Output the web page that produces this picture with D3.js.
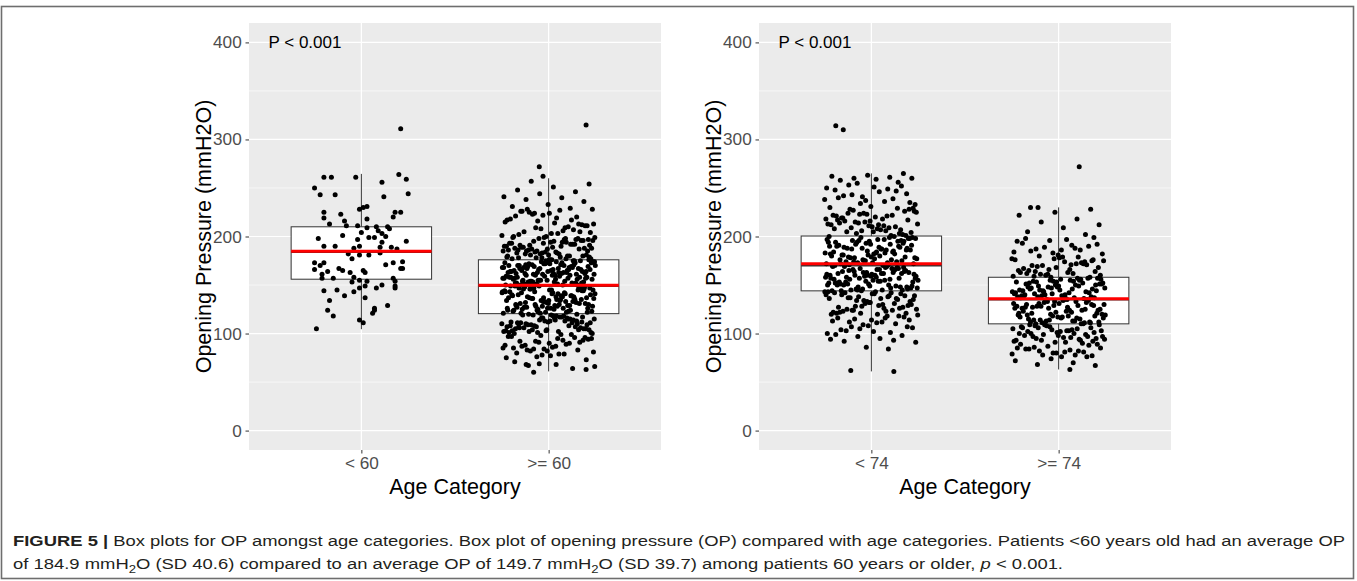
<!DOCTYPE html>
<html>
<head>
<meta charset="utf-8">
<script src="https://cdn.jsdelivr.net/npm/d3@7"></script>
<style>
  body { margin: 0; background: #fff; }
  svg { display: block; }
</style>
</head>
<body>
<script>
var w = 1357;
var h = 581;

// categories and axis ticks
var catsA = ["< 60", ">= 60"];
var catsB = ["< 74", ">= 74"];
var yTicks = [0, 100, 200, 300, 400];
var yMinor = [50, 150, 250, 350];

// box statistics (q1, median, q3, whisker ends) and the red mean line
var q1A = [156, 120.5], medA = [184, 149], q3A = [210, 176], loA = [104.5, 61], hiA = [264.5, 260], meanA = [184.9, 149.7];
var q1B = [144, 110], medB = [170, 135], q3B = [200.5, 158], loB = [61, 63], hiB = [265, 230], meanB = [171.8, 135.8];

// opening pressure of each patient, < 60 group (jitter read too, in category units)
var lt60 = [261,261,261,264,259,256,250,243,243,241,244,228,230,231,225,219,223,216,213,211,218,225,225,220,
  211,209,210,210,208,198,201,204,199,199,206,203,200,197,195,190,190,194,188,190,189,189,187,182,177,181,181,183,
  173,170,173,166,161,164,167,165,163,165,163,171,173,167,167,174,157,157,158,157,154,149,147,155,153,154,147,149,
  150,147,144,145,143,139,134,137,124,129,126,124,121,118,114,111,105,311];
var lt60Jit = [-0.20,-0.16,-0.03,0.20,0.24,0.11,-0.25,-0.22,-0.14,0.12,0.25,-0.01,0.01,0.03,-0.20,-0.20,-0.11,-0.09,
  -0.17,-0.08,0.03,0.18,0.21,0.17,-0.02,0.03,0.08,0.14,0.15,-0.23,-0.10,0.00,0.04,0.07,0.09,0.11,0.13,-0.02,0.24,
  -0.20,-0.14,0.11,-0.04,-0.01,0.10,0.16,0.19,-0.07,-0.05,-0.01,0.04,0.10,-0.25,-0.22,-0.20,-0.25,-0.21,-0.18,-0.12,
  -0.10,-0.06,0.01,0.02,0.13,0.17,0.21,0.22,0.22,-0.21,-0.15,-0.04,0.17,0.18,0.18,0.18,-0.01,-0.05,0.03,-0.01,0.02,
  0.11,0.08,-0.20,-0.13,-0.04,-0.09,-0.17,0.02,-0.18,0.14,0.07,0.07,0.06,-0.15,-0.01,0.01,-0.24,0.21];

// >= 60 group (dense cloud, values estimated band by band; the extreme points come first with their jitter)
var ge60 = [315,272,262,60,63,68,68,69,
  257,254,251,248,246,244,241,240,238,236,233,231,
  229,224,228,219,226,213,222,217,209,225,211,203,221,207,216,201,227,205,212,200,218,210,223,204,214,202,220,208,215,206,
  228,211,224,200,217,209,213,203,226,205,
  199,186,194,181,197,189,183,192,198,185,190,182,196,187,193,180,195,188,184,191,
  198,183,190,197,186,181,194,188,192,185,199,182,189,196,184,193,180,187,191,195,
  186,197,182,190,194,185,188,181,199,192,184,196,183,189,187,193,180,198,191,185,
  176,162,171,155,168,179,151,164,173,158,166,153,177,160,170,156,174,150,163,169,
  157,172,165,152,178,161,167,154,175,159,170,163,151,176,166,158,173,155,168,162,
  171,153,164,177,160,169,156,174,150,167,161,179,154,172,158,165,152,175,163,170,
  159,168,152,175,164,157,171,166,153,178,161,155,173,150,167,162,176,156,169,160,
  174,151,165,158,172,163,177,154,169,160,152,175,166,157,171,162,180,155,164,168,
  161,173,156,167,150,178,159,170,153,164,176,157,168,151,174,163,155,166,172,158,
  165,154,179,162,170,152,167,157,173,160,
  146,131,139,124,143,128,135,121,148,133,126,141,137,122,145,130,138,125,142,134,
  127,144,132,149,123,136,140,129,147,120,134,143,126,138,131,145,124,139,128,136,
  141,125,148,133,137,122,146,130,142,127,135,149,121,139,132,144,126,140,129,147,
  123,138,131,145,128,134,142,120,137,126,149,133,124,141,130,146,135,122,143,129,
  136,147,125,140,132,121,144,138,127,148,134,123,139,130,145,128,142,131,137,124,
  133,146,126,141,129,137,122,143,135,148,
  117,104,112,108,119,101,114,106,110,116,103,118,109,105,113,100,111,107,115,102,
  119,106,113,101,116,109,104,118,111,107,114,102,117,110,105,112,103,115,108,100,
  118,111,104,116,107,113,102,109,119,105,114,101,110,117,106,112,103,108,115,104,
  111,116,107,113,
  98,88,93,83,96,90,85,99,92,81,95,87,91,84,97,89,82,94,86,80,
  96,91,85,99,88,93,82,97,90,84,95,87,92,83,
  78,75,79,67,73,77,71,64,76,66,79];
var ge60Jit = [0.20,-0.05,-0.03,-0.08,0.20,-0.12,0.04,-0.05];

// < 74 group
var lt74 = [314,310,62,61,
  265,263,262,261,260,260,259,258,
  256,241,250,236,253,244,231,248,239,255,233,246,242,252,237,230,249,243,235,251,240,247,234,238,
  218,205,226,211,222,201,215,229,208,219,203,224,213,206,228,217,210,221,200,214,
  225,207,216,202,223,212,209,227,204,220,214,229,206,218,211,224,201,216,208,222,
  203,226,212,219,207,215,200,221,209,228,205,217,210,223,213,
  187,174,195,181,170,192,178,199,184,172,190,176,197,183,171,188,179,194,185,173,
  198,180,189,175,193,182,171,196,186,177,191,174,199,183,170,188,179,195,184,176,
  192,172,197,181,189,175,194,186,178,198,173,190,182,196,177,187,171,193,185,180,
  199,174,191,183,176,195,188,172,197,179,186,192,170,184,194,178,189,181,196,175,
  190,173,187,198,182,
  162,149,167,155,145,158,164,151,169,147,160,153,166,144,157,163,150,168,156,146,
  161,152,165,148,159,154,169,145,163,157,150,166,147,160,153,168,144,158,162,151,
  165,149,156,167,146,161,154,164,148,159,152,169,145,163,155,150,166,157,147,162,
  153,168,160,144,156,164,149,158,151,167,146,161,155,165,148,159,152,163,145,157,
  166,150,162,154,160,
  138,124,133,141,127,136,121,143,130,125,139,132,122,142,128,135,120,140,126,134,
  143,123,137,129,141,121,131,138,125,136,142,127,133,120,139,124,130,143,122,135,
  128,140,126,137,121,132,142,124,134,139,129,123,141,131,136,
  118,107,114,102,116,110,105,119,112,103,117,108,113,101,115,106,111,104,118,109,100,116,112,107,114,
  99,93,97,91,95,92,98,86,94,84];
var lt74Jit = [-0.19,-0.15,-0.11,0.12];

// >= 74 group
var ge74 = [272,230,230,63,
  228,225,222,218,215,212,209,205,202,
  196,184,191,187,199,181,193,186,189,182,197,185,190,183,195,188,180,192,186,198,
  172,161,177,166,159,175,168,163,179,170,160,174,165,171,158,176,162,169,164,178,
  167,173,160,175,163,170,158,177,165,172,161,168,179,162,174,166,159,171,164,176,
  148,139,155,143,151,136,146,157,141,153,137,149,144,156,140,152,135,147,142,154,
  138,150,145,157,139,151,136,148,143,155,141,146,153,137,149,144,156,140,152,135,
  147,142,154,138,150,145,157,139,151,136,148,143,155,141,146,153,137,149,144,156,
  140,152,135,147,142,154,138,150,145,139,
  124,113,130,118,127,111,133,121,116,128,112,134,119,125,114,131,122,110,129,117,
  126,115,132,120,123,112,134,118,128,113,131,121,116,127,110,133,119,124,114,130,
  122,117,129,111,125,135,115,132,120,126,113,128,118,131,123,110,134,116,127,121,
  112,129,119,133,114,124,117,130,111,126,
  105,96,108,92,101,107,94,99,103,91,109,97,104,93,100,106,95,102,98,90,
  108,94,103,97,106,91,100,105,93,109,96,102,99,107,92,104,95,101,98,106,
  93,109,97,103,100,
  88,80,85,78,82,89,76,84,81,87,79,83,86,77,80,89,82,78,85,81,84,76,
  74,72,70,68,67];
var ge74Jit = [0.11,-0.15,-0.11,0.06];

// texts
var yTitle = "Opening Pressure (mmH2O)";
var xTitle = "Age Category";
var pText = "P < 0.001";

var font = "'Liberation Sans', Arial, Helvetica, sans-serif";

var svg = d3.select("body").append("svg").attr("width", w).attr("height", h);

// figure frame
svg.append("rect")
  .attr("x", 1.5).attr("y", 6.5)
  .attr("width", 1352).attr("height", 572)
  .attr("fill", "none")
  .attr("stroke", "#6e6e6e")
  .attr("stroke-width", 1.6);

var y = d3.scaleLinear().domain([-20, 420]).range([450, 23]);

// jitter for the dense clouds where it was not read point by point
function spread(i) {
  return (((i * 0.6180339887 + 0.37) % 1) - 0.5) * 0.5;
}

function drawPanel(x0, x1, cats, groups, jits, q1, med, q3, lo, hi, mean) {
  var x = d3.scalePoint().domain(cats).range([x0, x1]).padding(0.6);
  var step = x.step();
  var g = svg.append("g");

  // panel background
  g.append("rect")
    .attr("x", x0).attr("y", y.range()[1])
    .attr("width", x1 - x0).attr("height", y.range()[0] - y.range()[1])
    .attr("fill", "#ebebeb");

  // grid
  g.selectAll("line.minor").data(yMinor).enter().append("line")
    .attr("x1", x0).attr("x2", x1)
    .attr("y1", d => y(d)).attr("y2", d => y(d))
    .attr("stroke", "#fff").attr("stroke-width", 0.6);
  g.selectAll("line.major").data(yTicks).enter().append("line")
    .attr("x1", x0).attr("x2", x1)
    .attr("y1", d => y(d)).attr("y2", d => y(d))
    .attr("stroke", "#fff").attr("stroke-width", 1.2);
  g.selectAll("line.vmajor").data(cats).enter().append("line")
    .attr("x1", d => x(d)).attr("x2", d => x(d))
    .attr("y1", y.range()[1]).attr("y2", y.range()[0])
    .attr("stroke", "#fff").attr("stroke-width", 1.2);

  // axes
  var ya = g.append("g").attr("transform", "translate(" + x0 + ",0)")
    .call(d3.axisLeft(y).tickValues(yTicks).tickSize(3.5).tickPadding(3.8));
  var xa = g.append("g").attr("transform", "translate(0," + y.range()[0] + ")")
    .call(d3.axisBottom(x).tickSize(3.5).tickPadding(3.5));
  [ya, xa].forEach(function (a) {
    a.select(".domain").remove();
    a.selectAll(".tick line").attr("stroke", "#333").attr("stroke-width", 1);
    a.selectAll(".tick text")
      .attr("fill", "#4d4d4d")
      .style("font-family", font)
      .style("font-size", "17.2px");
  });

  // axis titles
  g.append("text")
    .attr("transform", "translate(" + (x0 - 46) + "," + (y.range()[0] + y.range()[1]) / 2 + ") rotate(-90)")
    .attr("text-anchor", "middle").attr("dy", "0.35em")
    .style("font-family", font).style("font-size", "21.5px")
    .text(yTitle);
  g.append("text")
    .attr("x", (x0 + x1) / 2).attr("y", 494)
    .attr("text-anchor", "middle")
    .style("font-family", font).style("font-size", "21.5px")
    .text(xTitle);

  // p value annotation
  g.append("text")
    .attr("x", x0 + 19.5).attr("y", y(400)).attr("dy", "0.35em")
    .style("font-family", font).style("font-size", "17px")
    .text(pText);

  var bw = step * 0.75;

  // whiskers
  cats.forEach(function (c, i) {
    g.append("line")
      .attr("x1", x(c)).attr("x2", x(c))
      .attr("y1", y(q3[i])).attr("y2", y(hi[i]))
      .attr("stroke", "#333").attr("stroke-width", 1);
    g.append("line")
      .attr("x1", x(c)).attr("x2", x(c))
      .attr("y1", y(q1[i])).attr("y2", y(lo[i]))
      .attr("stroke", "#333").attr("stroke-width", 1);
  });

  // boxes
  g.selectAll("rect.box").data(cats).enter().append("rect")
    .attr("class", "box")
    .attr("x", d => x(d) - bw / 2)
    .attr("width", bw)
    .attr("y", (d, i) => y(q3[i]))
    .attr("height", (d, i) => y(q1[i]) - y(q3[i]))
    .attr("fill", "#fff")
    .attr("stroke", "#333").attr("stroke-width", 1);
  g.selectAll("line.med").data(cats).enter().append("line")
    .attr("x1", d => x(d) - bw / 2).attr("x2", d => x(d) + bw / 2)
    .attr("y1", (d, i) => y(med[i])).attr("y2", (d, i) => y(med[i]))
    .attr("stroke", "#333").attr("stroke-width", 2);

  // jittered points
  cats.forEach(function (c, k) {
    var vals = groups[k];
    var jit = jits[k] || [];
    g.append("g").selectAll("circle").data(vals).enter().append("circle")
      .attr("cx", (d, i) => x(c) + (i < jit.length ? jit[i] : spread(i)) * step)
      .attr("cy", d => y(d))
      .attr("r", 2.5)
      .attr("fill", "#000");
  });

  // red mean line
  g.selectAll("line.mean").data(cats).enter().append("line")
    .attr("x1", d => x(d) - bw / 2).attr("x2", d => x(d) + bw / 2)
    .attr("y1", (d, i) => y(mean[i])).attr("y2", (d, i) => y(mean[i]))
    .attr("stroke", "#ff0000").attr("stroke-width", 3);
}

drawPanel(249, 661, catsA, [lt60, ge60], [lt60Jit, ge60Jit], q1A, medA, q3A, loA, hiA, meanA);
drawPanel(759, 1171, catsB, [lt74, ge74], [lt74Jit, ge74Jit], q1B, medB, q3B, loB, hiB, meanB);

// caption
var capFont = "'Liberation Sans Narrow', 'Liberation Sans', Arial, sans-serif";
var cap1 = svg.append("text")
  .attr("x", 13).attr("y", 546)
  .attr("textLength", 1332).attr("lengthAdjust", "spacingAndGlyphs")
  .attr("fill", "#231f20")
  .style("font-family", capFont).style("font-size", "15.5px");
cap1.append("tspan").attr("font-weight", "bold").text("FIGURE 5 |");
cap1.append("tspan").text(" Box plots for OP amongst age categories. Box plot of opening pressure (OP) compared with age categories. Patients <60 years old had an average OP");

var cap2 = svg.append("text")
  .attr("x", 13).attr("y", 569)
  .attr("textLength", 1050).attr("lengthAdjust", "spacingAndGlyphs")
  .attr("fill", "#231f20")
  .style("font-family", capFont).style("font-size", "15.5px");
var parts = [
  ["of 184.9 mmH", 0], ["2", 1], ["O (SD 40.6) compared to an average OP of 149.7 mmH", 0], ["2", 1],
  ["O (SD 39.7) among patients 60 years or older, ", 0], ["p", 2], [" < 0.001.", 0]
];
var shifted = false;
parts.forEach(function (p) {
  var t = cap2.append("tspan").text(p[0]);
  if (p[1] === 1) {
    t.attr("dy", 4).style("font-size", "11px");
    shifted = true;
  } else if (shifted) {
    t.attr("dy", -4);
    shifted = false;
  }
  if (p[1] === 2) t.style("font-style", "italic");
});
</script>
</body>
</html>
